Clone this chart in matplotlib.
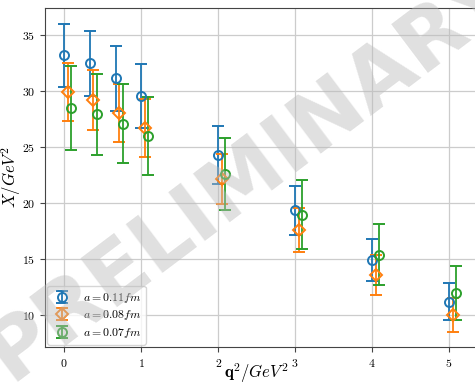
import matplotlib
matplotlib.use("Agg")
import matplotlib.pyplot as plt
import numpy as np

plt.rcParams['font.family'] = 'serif'
plt.rcParams['font.serif'] = ['cmr10', 'DejaVu Serif']
plt.rcParams['mathtext.fontset'] = 'cm'
plt.rcParams['axes.formatter.use_mathtext'] = True

q2 = [0.0, 0.33, 0.67, 1.0, 2.0, 3.0, 4.0, 5.0]
offsets = [0.0, 0.045, 0.09]
labels = [r'$a = 0.11fm$', r'$a = 0.08fm$', r'$a = 0.07fm$']
markers = ['o', 'D', 'o']
colors = ['#1f77b4', '#ff7f0e', '#2ca02c']

x_011 = [33.2, 32.5, 31.16, 29.58, 24.3, 19.37, 14.9, 11.19]
e_011 = [2.8, 2.9, 2.9, 2.85, 2.55, 2.2, 1.9, 1.65]
x_008 = [29.96, 29.2, 28.03, 26.7, 22.15, 17.6, 13.57, 10.0]
e_008 = [2.6, 2.68, 2.6, 2.6, 2.25, 2.0, 1.8, 1.5]
x_007 = [28.48, 27.94, 27.08, 26.0, 22.6, 18.98, 15.4, 11.99]
e_007 = [3.75, 3.6, 3.53, 3.45, 3.25, 3.05, 2.75, 2.4]

series = [(x_011, e_011), (x_008, e_008), (x_007, e_007)]

fig = plt.figure(figsize=(4.75, 3.82), dpi=100)
W, H = 475, 382
ax = fig.add_axes([45 / W, 1 - 347 / H, (476 - 45) / W, (347 - 8) / H])

for i, ((y, e), lab, m, c) in enumerate(zip(series, labels, markers, colors)):
    xs = np.array(q2) + offsets[i]
    ax.errorbar(xs, y, yerr=e, fmt=m, mfc='none', mec=c, color=c, ms=6.5,
                mew=1.4, capsize=4.5, elinewidth=1.3, capthick=1.3, label=lab)

ax.set_xlim(-0.25, 5.35)
ax.set_ylim(7.14, 37.44)
ax.set_xticks([0, 1, 2, 3, 4, 5])
ax.set_yticks([10, 15, 20, 25, 30, 35])
ax.tick_params(labelsize=8.5, color='#444444')
ax.grid(True, color='#cccccc', linewidth=0.9)
ax.set_axisbelow(True)
for s in ax.spines.values():
    s.set_color('#444444')
ax.set_xlabel(r'$\mathbf{q}^2/GeV^2$', fontsize=12)
ax.set_ylabel(r'$\bar{X}/GeV^2$', fontsize=12)
ax.xaxis.set_label_coords(0.49, -0.042)
ax.yaxis.set_label_coords(-0.05, 0.5)
ax.legend(loc='lower left', fontsize=8.5, framealpha=0.8, handlelength=1.6,
          labelspacing=0.3, borderaxespad=0.2, borderpad=0.4, handletextpad=1.0)

fig.text(250 / W, 1 - 172 / H, 'PRELIMINARY', fontsize=60, fontweight='bold',
         family='DejaVu Sans', color='#bbbbbb', alpha=0.45, rotation=37,
         ha='center', va='center', zorder=10)

fig.savefig('out.png', dpi=100)
